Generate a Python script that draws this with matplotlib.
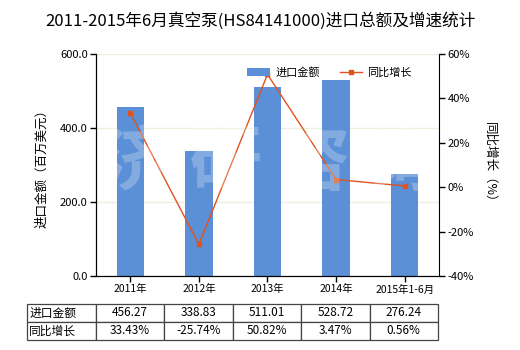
import matplotlib
matplotlib.use("Agg")
import matplotlib.pyplot as plt
import numpy as np

plt.rcParams['font.family'] = ['Noto Sans CJK SC', 'DejaVu Sans']

categories = ["2011年", "2012年", "2013年", "2014年", "2015年1-6月"]
import_values = [456.27, 338.83, 511.01, 528.72, 276.24]
growth_rates = [33.43, -25.74, 50.82, 3.47, 0.56]
import_labels = ["456.27", "338.83", "511.01", "528.72", "276.24"]
growth_labels = ["33.43%", "-25.74%", "50.82%", "3.47%", "0.56%"]
row_names = ["进口金额", "同比增长"]
left_ticks = [0, 200, 400, 600]
right_ticks = [-40, -20, 0, 20, 40, 60]

bar_color = "#5B8FD6"
line_color = "#E0521E"

fig = plt.figure(figsize=(5.2, 3.5), dpi=100)
ax = fig.add_axes([0.1846, 0.2114, 0.6596, 0.6343])
x = np.arange(len(categories))
ax.bar(x, import_values, width=0.4, color=bar_color, zorder=2, label=row_names[0])
ax.set_xlim(-0.5, len(categories) - 0.5)
ax.set_ylim(0, 600)
ax.set_yticks(left_ticks)
ax.set_yticklabels([f"{v:.1f}" for v in left_ticks], fontsize=8)
ax.set_xticks(x)
ax.set_xticklabels(categories, fontsize=7.5)
ax.grid(axis='y', color='#EEEEDD', linewidth=1, zorder=0)
ax.spines['top'].set_visible(False)
ax.spines['right'].set_visible(False)
ax.tick_params(axis='both', length=4, width=1, pad=2)
ax.set_ylabel("进口金额（百万美元）", fontsize=9, labelpad=8)

ax2 = ax.twinx()
ax2.plot(x, growth_rates, color=line_color, linewidth=1.0, marker='s', markersize=3,
         zorder=3, label=row_names[1])
ax2.set_ylim(-40, 60)
ax2.set_yticks(right_ticks)
ax2.set_yticklabels([f"{v}%" for v in right_ticks], fontsize=8)
ax2.spines['top'].set_visible(False)
ax2.tick_params(axis='y', length=4, width=1, pad=2)
ax2.set_ylabel("同比增长（%）", fontsize=9, rotation=270, labelpad=16)

# watermark
fig.text(0.52, 0.53, "济 研 咨 询", fontsize=52, color='white', alpha=0.25,
         ha='center', va='center', fontweight='bold', zorder=10)

h1, l1 = ax.get_legend_handles_labels()
h2, l2 = ax2.get_legend_handles_labels()
ax2.legend(h1 + h2, l1 + l2, loc='upper right', bbox_to_anchor=(0.95, 0.985),
           ncol=2, frameon=False, fontsize=8, handlelength=2.0, columnspacing=1.8,
           handletextpad=0.5)

fig.suptitle("2011-2015年6月真空泵(HS84141000)进口总额及增速统计", fontsize=12, y=0.965)

# table
cell_text = [[row_names[0]] + import_labels, [row_names[1]] + growth_labels]
first_w = 69 / 343
data_w = (1 - 0.003) / len(categories)
tbl = ax.table(cellText=cell_text, colWidths=[first_w] + [data_w] * len(categories),
               bbox=[-first_w, -0.288, first_w + 0.997, 0.162], cellLoc='center')
tbl.auto_set_font_size(False)
for (r, c), cell in tbl.get_celld().items():
    cell.set_fontsize(8.5)
    cell.set_edgecolor('#444444')
    cell.set_linewidth(0.9)
    if c == 0:
        cell.set_text_props(ha='left')
        cell._loc = 'left'
        cell.PAD = 0.03

fig.savefig("out.png", dpi=100)
